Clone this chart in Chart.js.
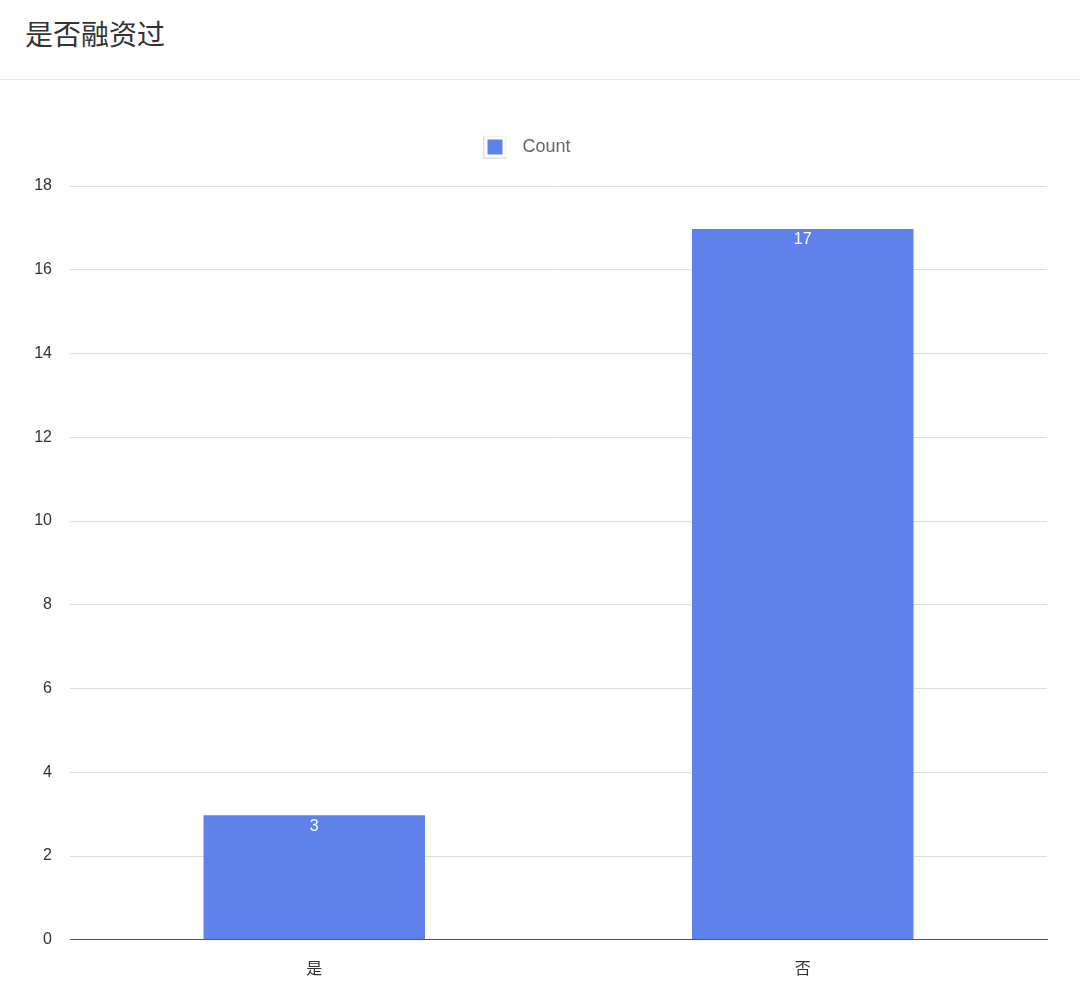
<!DOCTYPE html>
<html>
<head>
<meta charset="utf-8">
<script src="https://cdn.jsdelivr.net/npm/chart.js@4"></script>
<style>
  body { margin: 0; background: #fff; font-family: "Noto Sans CJK SC", "Noto Sans", sans-serif; }
  .header { height: 79px; border-bottom: 1px solid #e6e6e6; box-sizing: content-box; }
  .header h1 { margin: 0; padding-left: 25px; line-height: 66px; font-size: 28px; font-weight: normal; color: #333; }
  .wrap { position: relative; width: 1080px; height: 922px; }
</style>
</head>
<body>
<div class="header"><h1>是否融资过</h1></div>
<div class="wrap"><canvas id="chart"></canvas></div>
<script>
const categories = ['是', '否'];
const counts = [3, 17];
const seriesName = 'Count';
const yTicks = [0, 2, 4, 6, 8, 10, 12, 14, 16, 18];

const barColor = '#5f82ea';

// legend marker: grey outline, white gap, blue square
const marker = document.createElement('canvas');
marker.width = 23;
marker.height = 23;
const mctx = marker.getContext('2d');
mctx.fillStyle = '#fff';
mctx.fillRect(0, 0, 23, 23);
mctx.strokeStyle = '#e2e2e2';
mctx.lineWidth = 1;
mctx.strokeRect(0.5, 0.5, 22, 22);
mctx.fillStyle = barColor;
mctx.fillRect(4, 4, 15, 15);

const valueLabels = {
    id: 'valueLabels',
    afterDatasetsDraw(chart) {
        const ctx = chart.ctx;
        ctx.save();
        ctx.fillStyle = '#fff';
        ctx.font = '16px "Liberation Sans", Arial, sans-serif';
        ctx.textAlign = 'center';
        ctx.textBaseline = 'middle';
        chart.getDatasetMeta(0).data.forEach((bar, i) => {
            ctx.fillText(String(counts[i]), bar.x, bar.y + 12);
        });
        ctx.restore();
    }
};

const ctx = document.getElementById('chart').getContext('2d');
new Chart(ctx, {
    type: 'bar',
    data: {
        labels: categories,
        datasets: [{
            label: seriesName,
            data: counts,
            backgroundColor: barColor,
            borderColor: 'rgba(255,255,255,0.45)',
            borderWidth: 1,
            barPercentage: 0.915,
            categoryPercentage: 0.5
        }]
    },
    options: {
        responsive: true,
        maintainAspectRatio: false,
        animation: false,
        layout: { padding: { top: 28, right: 33, left: 0, bottom: 5 } },
        plugins: {
            legend: {
                display: true,
                labels: {
                    usePointStyle: true,
                    pointStyle: marker,
                    pointStyleWidth: 37,
                    padding: 30,
                    color: '#666',
                    font: { size: 18, family: '"Liberation Sans", Arial, sans-serif' }
                }
            },
            tooltip: { enabled: false }
        },
        scales: {
            x: {
                grid: { display: false, drawTicks: false },
                border: { display: true, color: '#555', width: 1 },
                ticks: {
                    padding: 19,
                    color: '#333',
                    font: { size: 16, family: '"Noto Sans CJK SC", sans-serif' }
                }
            },
            // empty top axis, only used as a spacer under the legend
            xTop: {
                type: 'category',
                position: 'top',
                grid: { display: false, drawTicks: false },
                border: { display: false },
                ticks: { display: false },
                afterFit(axis) { axis.height = 20; }
            },
            y: {
                min: 0,
                max: 18,
                afterBuildTicks(axis) {
                    axis.ticks = yTicks.map(v => ({ value: v }));
                },
                afterFit(axis) { axis.width = 70; },
                grid: { color: '#dcdcdc', drawTicks: false },
                border: { display: false },
                ticks: {
                    padding: 18,
                    color: '#333',
                    font: { size: 16, family: '"Liberation Sans", Arial, sans-serif' }
                }
            }
        }
    },
    plugins: [valueLabels]
});
</script>
</body>
</html>
